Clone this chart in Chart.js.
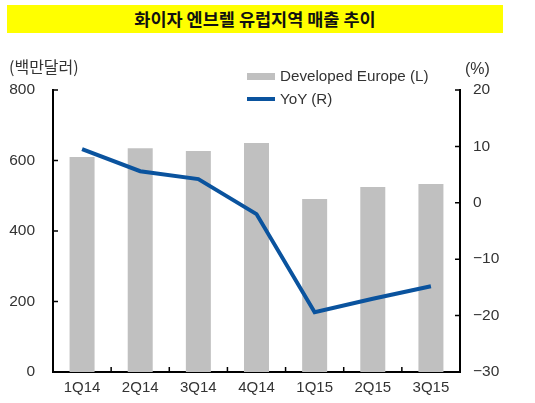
<!DOCTYPE html>
<html>
<head>
<meta charset="utf-8">
<script src="https://cdn.jsdelivr.net/npm/chart.js@4"></script>
<style>
	html, body { margin: 0; padding: 0; background: #fff; }
	#wrap { position: relative; width: 535px; height: 403px; overflow: hidden; font-family: "Liberation Sans", Arial, sans-serif; }
	#title { position: absolute; left: 7px; top: 5px; width: 496px; height: 28px; background: #ffff00; text-align: center; line-height: 28px; font-family: "Noto Sans CJK KR", sans-serif; font-weight: bold; font-size: 17.5px; color: #111; }
	.lbl { position: absolute; color: #333; font-size: 15px; white-space: nowrap; }
	#unitL { left: 9px; top: 54px; font-family: "Noto Sans CJK KR", sans-serif; font-size: 16px; }
	#unitR { left: 465px; top: 60px; font-size: 16px; }
	.sw { position: absolute; }
	#chart { position: absolute; left: 0; top: 0; }
</style>
</head>
<body>
<div id="wrap">
	<canvas id="chart" width="535" height="403"></canvas>
	<div id="title">화이자 엔브렐 유럽지역 매출 추이</div>
	<div class="lbl" id="unitL">(백만달러)</div>
	<div class="lbl" id="unitR">(%)</div>
	<div class="sw" style="left:247px; top:73px; width:28px; height:7px; background:#c0c0c0;"></div>
	<div class="lbl" style="left:280px; top:67px; font-size:15.2px;">Developed Europe (L)</div>
	<div class="sw" style="left:247px; top:97px; width:28px; height:4px; background:#0a539e;"></div>
	<div class="lbl" style="left:280px; top:90px; font-size:15.2px;">YoY (R)</div>
</div>
<script>
'use strict';

// 데이터
const categories = ['1Q14', '2Q14', '3Q14', '4Q14', '1Q15', '2Q15', '3Q15'];
const salesValues = [610, 635, 627, 650, 491, 525, 533];
const yoyValues = [9.5, 5.6, 4.2, -2.0, -19.4, -17.0, -14.8];
const leftTicks = [0, 200, 400, 600, 800];
const rightTicks = [-30, -20, -10, 0, 10, 20];

// 안쪽 눈금 그리기
const innerTicks = {
	id: 'innerTicks',
	afterDraw(chart) {
		const ctx = chart.ctx;
		const area = chart.chartArea;
		const y = chart.scales.y;
		const y1 = chart.scales.y1;
		const x = chart.scales.x;
		const len = 5;
		ctx.save();
		ctx.strokeStyle = '#000';
		ctx.lineWidth = 1.5;
		ctx.beginPath();
		leftTicks.forEach(v => {
			const py = y.getPixelForValue(v);
			ctx.moveTo(area.left, py);
			ctx.lineTo(area.left + len, py);
		});
		rightTicks.forEach(v => {
			const py = y1.getPixelForValue(v);
			ctx.moveTo(area.right, py);
			ctx.lineTo(area.right - len, py);
		});
		const half = (x.getPixelForValue(1) - x.getPixelForValue(0)) / 2;
		for (let i = 1; i < categories.length; i++) {
			const px = x.getPixelForValue(i) - half;
			ctx.moveTo(px, area.bottom);
			ctx.lineTo(px, area.bottom - len);
		}
		ctx.stroke();
		ctx.restore();
	}
};

new Chart(document.getElementById('chart'), {
	data: {
		labels: categories,
		datasets: [{
			type: 'line',
			label: 'YoY (R)',
			data: yoyValues,
			yAxisID: 'y1',
			borderColor: '#0a539e',
			borderWidth: 4,
			borderCapStyle: 'butt',
			pointRadius: 0,
			tension: 0,
			order: 0
		}, {
			type: 'bar',
			label: 'Developed Europe (L)',
			data: salesValues,
			yAxisID: 'y',
			backgroundColor: '#c0c0c0',
			barPercentage: 0.43,
			categoryPercentage: 1,
			order: 1
		}]
	},
	options: {
		responsive: false,
		animation: false,
		layout: {
			padding: { top: 90, left: 0, right: 0, bottom: 0 }
		},
		plugins: {
			legend: { display: false },
			title: { display: false },
			tooltip: { enabled: false }
		},
		scales: {
			x: {
				offset: true,
				grid: { display: false, drawTicks: false },
				border: { display: true, color: '#000', width: 2 },
				ticks: { color: '#333', padding: 7, font: { family: 'Liberation Sans', size: 15 } },
				afterFit(scale) { scale.height = 31; }
			},
			y: {
				position: 'left',
				min: 0,
				max: 800,
				grid: { display: false, drawTicks: false },
				border: { display: true, color: '#000', width: 2 },
				ticks: { stepSize: 200, color: '#333', padding: 18, font: { family: 'Liberation Sans', size: 15.5 } },
				afterFit(scale) { scale.width = 53; }
			},
			y1: {
				position: 'right',
				min: -30,
				max: 20,
				grid: { display: false, drawTicks: false },
				border: { display: true, color: '#000', width: 2 },
				ticks: {
					stepSize: 10,
					color: '#333',
					padding: 13,
					font: { family: 'Liberation Sans', size: 15.5 },
					callback: v => v < 0 ? '\u2212' + Math.abs(v) : String(v)
				},
				afterFit(scale) { scale.width = 75; }
			}
		}
	},
	plugins: [innerTicks]
});
</script>
</body>
</html>
